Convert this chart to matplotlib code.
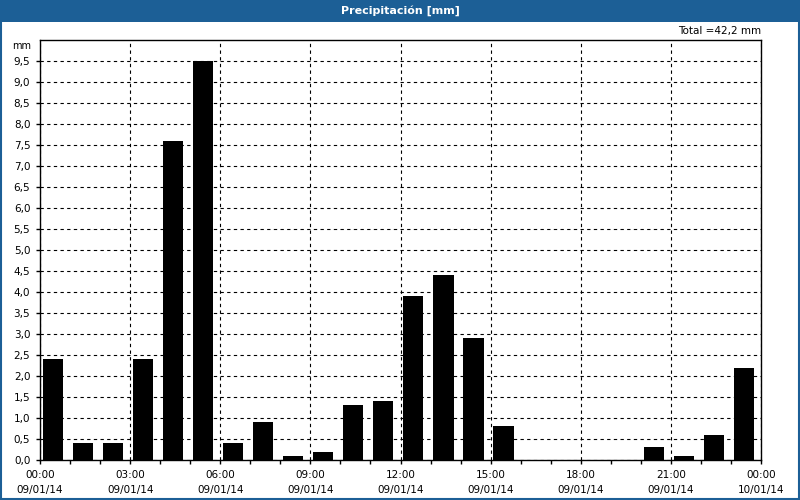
import numpy as np
import matplotlib.pyplot as plt
from matplotlib.patches import Rectangle

hours = np.arange(24)
rain = [2.4, 0.4, 0.4, 2.4, 7.6, 9.5, 0.4, 0.9, 0.1, 0.2, 1.3, 1.4,
        3.9, 4.4, 2.9, 0.8, 0.0, 0.0, 0.0, 0.0, 0.3, 0.1, 0.6, 2.2]
tick_hours = [0, 3, 6, 9, 12, 15, 18, 21, 24]
tick_labels = ['00:00\n09/01/14', '03:00\n09/01/14', '06:00\n09/01/14',
               '09:00\n09/01/14', '12:00\n09/01/14', '15:00\n09/01/14',
               '18:00\n09/01/14', '21:00\n09/01/14', '00:00\n10/01/14']
y_ticks = np.arange(0, 10, 0.5)

blue = '#1c5f96'
fig = plt.figure(figsize=(8, 5), dpi=100)

# title bar and outer border
fig.patches.append(Rectangle((0, 1 - 22 / 500), 1, 22 / 500, transform=fig.transFigure,
                             facecolor=blue, edgecolor='none'))
fig.patches.append(Rectangle((0.001, 0.002), 0.998, 0.996, transform=fig.transFigure,
                             facecolor='none', edgecolor=blue, linewidth=1.5))
fig.text(0.5, 1 - 11 / 500, 'Precipitación [mm]', color='white', fontsize=8,
         fontweight='bold', ha='center', va='center')

ax = fig.add_axes([40 / 800, 40 / 500, 721 / 800, 420 / 500])
# bars sit slightly left of the hour centre, like the original
ax.bar(hours + 0.43, rain, width=0.67, color='black', zorder=3)
ax.set_xlim(0, 24)
ax.set_ylim(0, 10)

ax.set_xticks(tick_hours)
ax.set_xticklabels(tick_labels, fontsize=7.5, linespacing=1.6)
ax.set_xticks(np.arange(25), minor=True)
ax.set_yticks(y_ticks)
ax.set_yticklabels([f'{v:.1f}'.replace('.', ',') for v in y_ticks], fontsize=7.5)
ax.tick_params(axis='both', which='both', direction='out', length=3, width=1, pad=4)

ax.grid(True, axis='both', which='major', color='black', linestyle=(0, (3, 3)),
        linewidth=0.8, zorder=0)
for s in ax.spines.values():
    s.set_color('black')
    s.set_linewidth(1)

ax.text(-0.012, 0.985, 'mm', transform=ax.transAxes, fontsize=7, ha='right', va='center')
ax.text(1.0, 1.01, 'Total =42,2 mm', transform=ax.transAxes, fontsize=7.5,
        ha='right', va='bottom')

fig.savefig('out.png', dpi=100)
